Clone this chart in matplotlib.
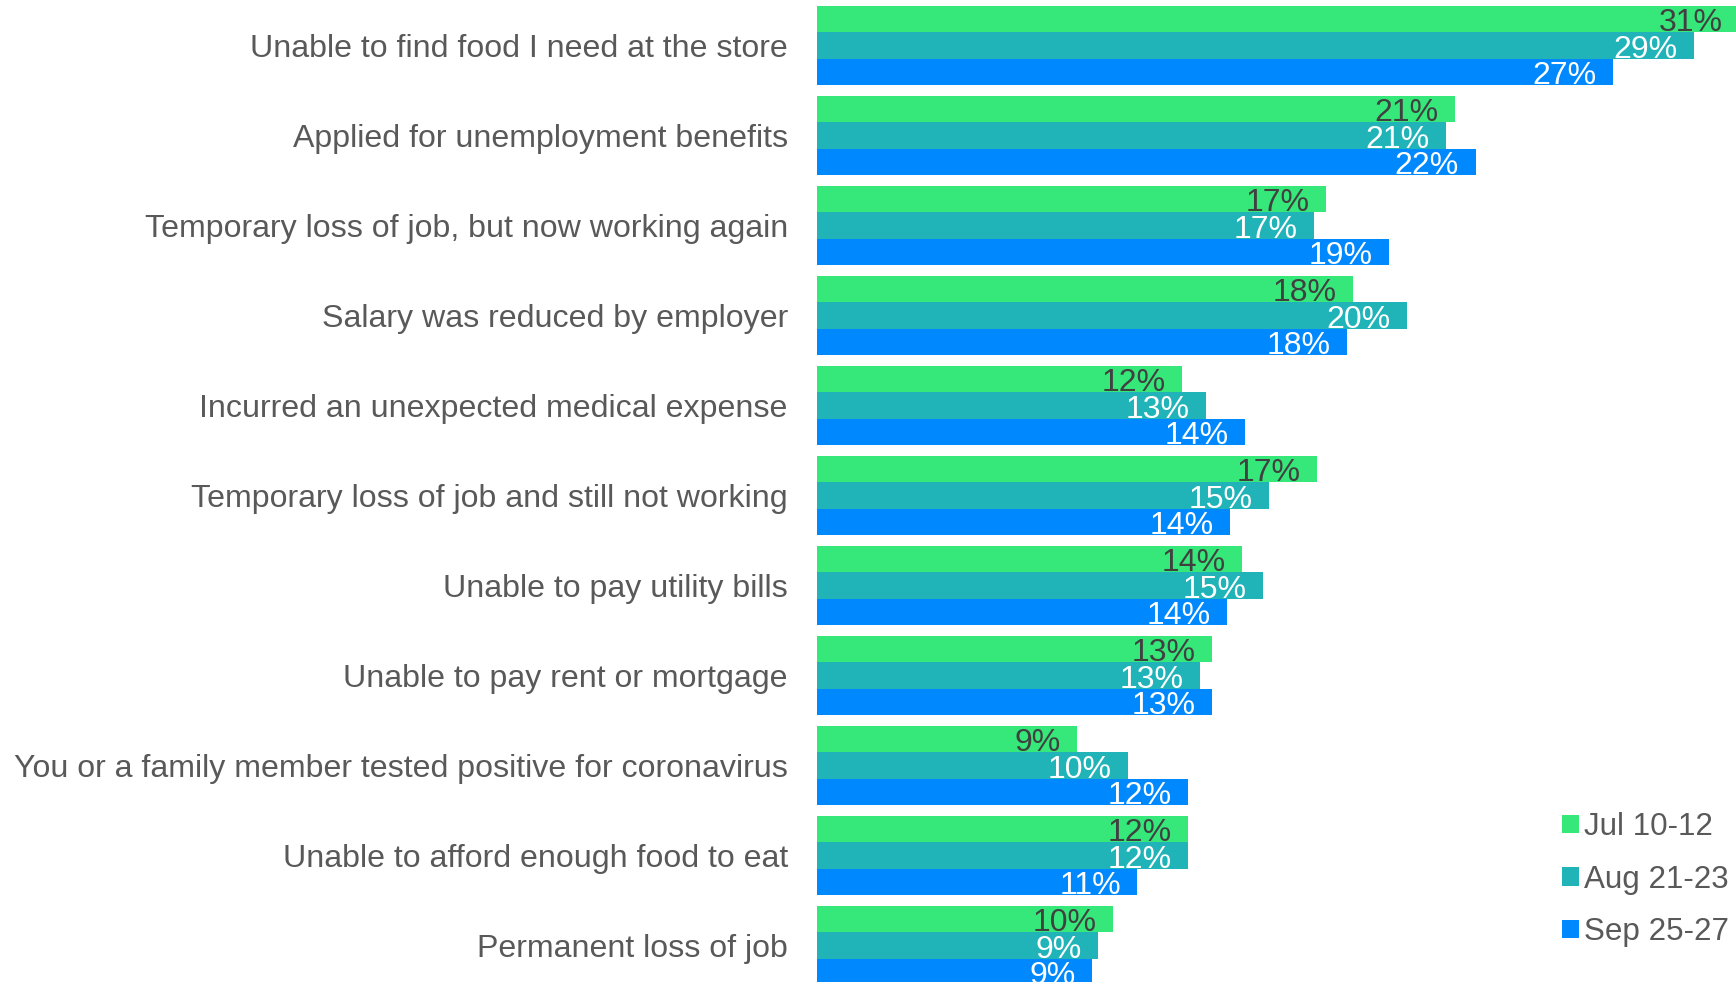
import numpy as np
import matplotlib
matplotlib.use("Agg")
import matplotlib.pyplot as plt
from matplotlib import rcParams

# -------------------------------
# Font
# -------------------------------
rcParams['font.family'] = ['Liberation Sans', 'DejaVu Sans']

# -------------------------------
# Data (percent of respondents)
# -------------------------------
categories = [
    "Unable to find food I need at the store",
    "Applied for unemployment benefits",
    "Temporary loss of job, but now working again",
    "Salary was reduced by employer",
    "Incurred an unexpected medical expense",
    "Temporary loss of job and still not working",
    "Unable to pay utility bills",
    "Unable to pay rent or mortgage",
    "You or a family member tested positive for coronavirus",
    "Unable to afford enough food to eat",
    "Permanent loss of job",
]
jul = [30.8, 21.3, 17.0, 17.9, 12.2, 16.7, 14.2, 13.2, 8.7, 12.4, 9.9]
aug = [29.3, 21.0, 16.6, 19.7, 13.0, 15.1, 14.9, 12.8, 10.4, 12.4, 9.4]
sep = [26.6, 22.0, 19.1, 17.7, 14.3, 13.8, 13.7, 13.2, 12.4, 10.7, 9.2]

series_names = ["Jul 10-12", "Aug 21-23", "Sep 25-27"]
colors = ["#36E87A", "#20B4B9", "#0088FF"]
label_colors = ["#404040", "white", "white"]

# -------------------------------
# Figure
# -------------------------------
W, H = 1736, 982
fig = plt.figure(figsize=(W / 100, H / 100), dpi=100)
ax = fig.add_axes([817 / W, 0, 919 / W, 1])

y = np.arange(len(categories))
h = 0.2926
series = [jul, aug, sep]

for i, vals in enumerate(series):
    bars = ax.barh(y + (i - 1) * h, vals, height=h, color=colors[i],
                   label=series_names[i])
    for b, v in zip(bars, vals):
        ax.text(v - 0.55, b.get_y() + b.get_height() / 2 + 0.045,
                f"{round(v):.0f}%", ha="right", va="center",
                fontsize=23, color=label_colors[i], clip_on=False)

ax.set_xlim(0, 30.7)
ax.set_ylim(10.405, -0.506)

ax.set_yticks(y)
ax.set_yticklabels(categories, fontsize=23.1, color="#595959")
ax.tick_params(axis="y", length=0, pad=21)
ax.set_xticks([])
for s in ax.spines.values():
    s.set_visible(False)

# -------------------------------
# Legend
# -------------------------------
fig.legend(loc="upper left", bbox_to_anchor=(1562 / W, 1 - 812 / H),
           frameon=False, fontsize=22.6, labelcolor="#595959",
           handlelength=0.53, handleheight=0.53, handletextpad=0.18,
           labelspacing=0.72, borderpad=0, borderaxespad=0)

plt.savefig("out.png", dpi=100)
